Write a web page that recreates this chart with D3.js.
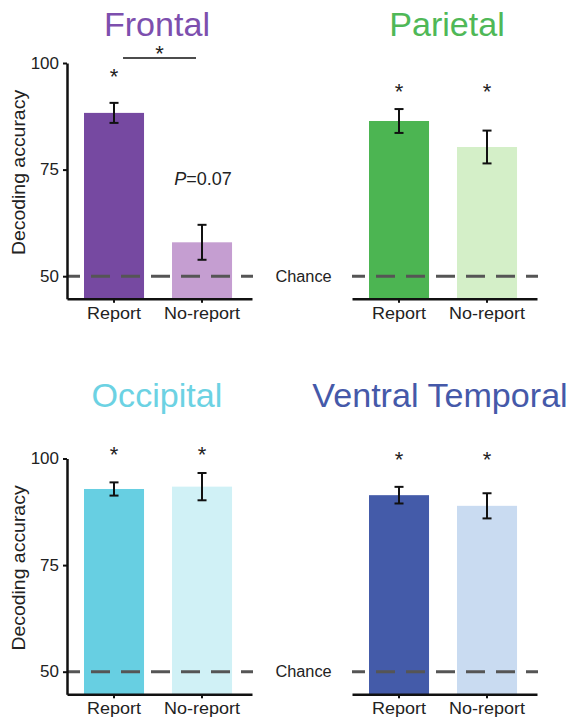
<!DOCTYPE html>
<html>
<head>
<meta charset="utf-8">
<script src="https://cdn.jsdelivr.net/npm/d3@7"></script>
<style>
  html, body { margin: 0; padding: 0; background: #fff; }
  svg { display: block; }
  text { font-family: "Liberation Sans", Arial, Helvetica, sans-serif; }
</style>
</head>
<body>
<svg id="chart" width="574" height="721"></svg>
<script>
// ---------------- data ----------------
const regions = ["Frontal", "Parietal", "Occipital", "Ventral Temporal"];
const conditions = ["Report", "No-report"];
const reportMeans   = [88.3, 86.4, 92.85, 91.4];
const reportErr     = [2.35, 2.8, 1.55, 1.95];
const noReportMeans = [57.95, 80.3, 93.4, 88.9];
const noReportErr   = [4.1, 3.85, 3.2, 2.95];
const reportSig     = [true, true, true, true];
const noReportSig   = [false, true, true, true];
const starLevel     = [98.0, 94.6, 102.0, 101.0];
const yTicks = [50, 75, 100];
const chanceLevel = 50;
const yDomain = [44.7, 100];
const bracketLevel = 101.2;      // Frontal report vs no-report bracket
const bracketStarLevel = 103.3;
const frontalPText = "0.07";

// ---------------- styles ----------------
const titleColors  = ["#7d4fae", "#4fb857", "#6cd2e3", "#4559a9"];
const reportColors = ["#7649a1", "#4cb552", "#67cfe2", "#445ba9"];
const noRepColors  = ["#c59ed1", "#d4efc8", "#d0f1f6", "#c9dbf1"];

const svg = d3.select("#chart");

// panel layout
const panelW = 185;
const pxPerUnit = 4.264;
const layout = [
  {x0: 67,  yTop: 63,    yAxis: true,  chanceLabel: false, titleX: 157, titleY: 36},
  {x0: 352, yTop: 63,    yAxis: false, chanceLabel: true,  titleX: 447, titleY: 36},
  {x0: 67,  yTop: 458.5, yAxis: true,  chanceLabel: false, titleX: 157, titleY: 407},
  {x0: 352, yTop: 458.5, yAxis: false, chanceLabel: true,  titleX: 440, titleY: 407}
];

function stretchText(sel, x, y, sx, rot) {
  sel.attr("transform", `translate(${x},${y})` + (rot ? ` rotate(${rot})` : "") + ` scale(${sx},1)`);
  return sel;
}

regions.forEach((name, i) => {
  const L = layout[i];
  const yBottom = L.yTop + (yDomain[1] - yDomain[0]) * pxPerUnit;
  const y = d3.scaleLinear().domain(yDomain).range([yBottom, L.yTop]);
  const x = d3.scaleBand().domain(conditions)
    .range([L.x0, L.x0 + panelW]).paddingInner(0.318).paddingOuter(0.21).align(0.46);

  const g = svg.append("g");
  const means = [reportMeans[i], noReportMeans[i]];
  const errs = [reportErr[i], noReportErr[i]];
  const sig = [reportSig[i], noReportSig[i]];
  const fills = [reportColors[i], noRepColors[i]];

  // title
  stretchText(g.append("text"), L.titleX, L.titleY, 1.05)
    .attr("text-anchor", "middle")
    .attr("font-size", 32.5)
    .attr("fill", titleColors[i])
    .text(name);

  // bars
  g.selectAll("rect.bar").data(conditions).enter().append("rect")
    .attr("class", "bar")
    .attr("x", d => x(d))
    .attr("width", x.bandwidth())
    .attr("y", (d, k) => y(means[k]))
    .attr("height", (d, k) => yBottom - y(means[k]))
    .attr("fill", (d, k) => fills[k]);

  // chance line
  g.append("line")
    .attr("x1", L.x0).attr("x2", L.x0 + panelW + 1)
    .attr("y1", y(chanceLevel)).attr("y2", y(chanceLevel))
    .attr("stroke", "#555").attr("stroke-width", 3)
    .attr("stroke-dasharray", "19,11").attr("stroke-dashoffset", 6);

  if (L.chanceLabel) {
    stretchText(g.append("text"), L.x0 - 48.5, y(chanceLevel), 1.02)
      .attr("text-anchor", "middle").attr("dy", "0.36em")
      .attr("font-size", 16).attr("fill", "#222")
      .text("Chance");
  }

  // error bars
  conditions.forEach((c, k) => {
    const cx = x(c) + x.bandwidth() / 2;
    const eg = g.append("g").attr("stroke", "#111").attr("stroke-width", 2);
    eg.append("line").attr("x1", cx).attr("x2", cx)
      .attr("y1", y(means[k] + errs[k])).attr("y2", y(means[k] - errs[k]));
    eg.append("line").attr("x1", cx - 4.5).attr("x2", cx + 4.5)
      .attr("y1", y(means[k] + errs[k])).attr("y2", y(means[k] + errs[k]));
    eg.append("line").attr("x1", cx - 4.5).attr("x2", cx + 4.5)
      .attr("y1", y(means[k] - errs[k])).attr("y2", y(means[k] - errs[k]));
    if (sig[k]) {
      g.append("text").attr("x", cx).attr("y", y(starLevel[i]) + 12.5)
        .attr("text-anchor", "middle").attr("font-size", 22).attr("fill", "#222")
        .text("*");
    }
  });

  // x axis
  const xa = g.append("g").attr("transform", `translate(0,${yBottom})`)
    .call(d3.axisBottom(x).tickSize(4).tickSizeOuter(0).tickPadding(4));
  xa.select(".domain").attr("stroke", "#111").attr("stroke-width", 2.5);
  xa.selectAll(".tick line").attr("stroke", "#111").attr("stroke-width", 2);
  xa.selectAll(".tick text").attr("font-size", 17).attr("fill", "#222")
    .attr("font-family", null)
    .attr("transform", "scale(1.06,1)");

  // y axis
  if (L.yAxis) {
    const ya = g.append("g").attr("transform", `translate(${L.x0},0)`)
      .call(d3.axisLeft(y).tickValues(yTicks).tickSize(4).tickSizeOuter(0).tickPadding(4));
    ya.select(".domain").attr("stroke", "#111").attr("stroke-width", 2.5);
    ya.selectAll(".tick line").attr("stroke", "#111").attr("stroke-width", 2);
    ya.selectAll(".tick text").attr("font-size", 16.5).attr("fill", "#222")
      .attr("font-family", null)
      .attr("x", -8 / 1.03).attr("transform", "scale(1.03,1)");

    stretchText(g.append("text"), 25, L.yTop + 109.5, 1.08, -90)
      .attr("text-anchor", "middle").attr("font-size", 18).attr("fill", "#222")
      .text("Decoding accuracy");
  }

  // Frontal-specific annotations
  if (i === 0) {
    const c0 = x(conditions[0]) + x.bandwidth() / 2;
    const c1 = x(conditions[1]) + x.bandwidth() / 2;
    g.append("line").attr("x1", c0 + 9).attr("x2", c1 - 6)
      .attr("y1", y(bracketLevel)).attr("y2", y(bracketLevel))
      .attr("stroke", "#111").attr("stroke-width", 1.5);
    g.append("text").attr("x", (c0 + 9 + c1 - 6) / 2).attr("y", y(bracketStarLevel) + 12.5)
      .attr("text-anchor", "middle").attr("font-size", 22).attr("fill", "#222").text("*");
    const pt = stretchText(g.append("text"), c1 + 1, y(noReportMeans[0] + noReportErr[0]) - 40, 1.03)
      .attr("text-anchor", "middle").attr("font-size", 17.5).attr("fill", "#222");
    pt.append("tspan").attr("font-style", "italic").text("P");
    pt.append("tspan").text("=" + frontalPText);
  }
});
</script>
</body>
</html>
